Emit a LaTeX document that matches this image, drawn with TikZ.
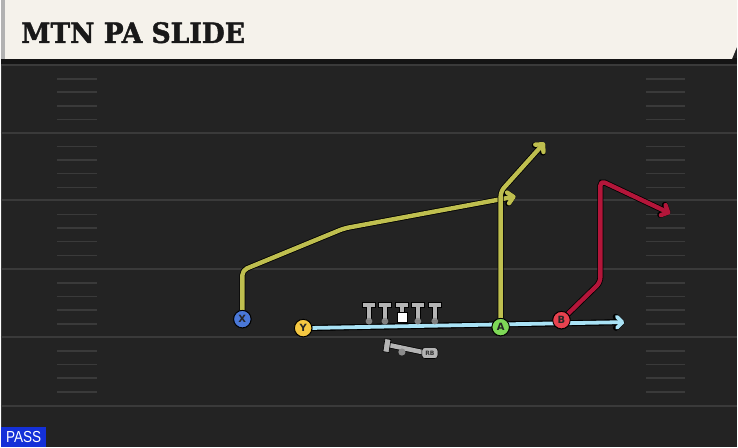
\documentclass[tikz,border=0pt]{standalone}
\usepackage{fontspec}
\setmainfont{DejaVu Serif}
\setsansfont{DejaVu Sans}
\newfontfamily\passfont{Liberation Sans}
\newfontfamily\titlefont{DejaVu Serif Bold}[FakeBold=1.6]
\usepackage{xcolor}
\usetikzlibrary{arrows.meta,calc}

\definecolor{fieldbg}{HTML}{232323}
\definecolor{yardline}{HTML}{3A3A3A}
\definecolor{titlebg}{HTML}{F5F2EB}
\definecolor{olive}{HTML}{BFBF4F}
\definecolor{crimson}{HTML}{B3163A}
\definecolor{slide}{HTML}{A9E2F5}
\definecolor{xblue}{HTML}{4A78D8}
\definecolor{yyellow}{HTML}{F5C842}
\definecolor{agreen}{HTML}{7ED957}
\definecolor{bred}{HTML}{E8424F}
\definecolor{olgray}{HTML}{B4B4B4}
\definecolor{passblue}{HTML}{1430D8}

\begin{document}
\begin{tikzpicture}[x=1pt, y=-1pt,
    player/.style={circle, draw=black, line width=0.9pt, minimum size=17.5pt, inner sep=0pt, text=black!85, font=\sffamily\bfseries\fontsize{10}{10}\selectfont},
    route/.style={line width=4.4pt, line join=round, rounded corners=5pt,
        preaction={draw=black, line width=6pt},
        -{Straight Barb[length=5.5pt, width=11pt, round]}},
    lineman/.style={fill=olgray, draw=black, line width=0.6pt},
    hash/.style={yardline, line width=1.6pt}
]
    % Field
    \fill[fieldbg] (0,0) rectangle (738,448);
    \draw[yardline, line width=1pt] (1,60) -- (1,448);
    \foreach \y in {65,133,201,270,338,407} {
        \draw[yardline, line width=2pt] (0,\y) -- (738,\y);
    }
    \foreach \y in {65,133,201,270,338} {
        \foreach \d in {14,27.5,41,55} {
            \draw[hash] (56,\y+\d) -- (96,\y+\d);
            \draw[hash] (647,\y+\d) -- (686,\y+\d);
        }
    }

    % Title bar
    \fill[black!92] (0,58) rectangle (738,64);
    \fill[titlebg] (0,0) -- (738,0) -- (738,47) -- (733,59) -- (0,59) -- cycle;
    \fill[black!30] (0,0) rectangle (4,59);
    \node[anchor=base west, inner sep=0pt, text=black!90, font=\titlefont\fontsize{28}{28}\selectfont] (title) at (20,43) {\scalebox{0.95}[1]{MTN PA SLIDE}};

    % Players
    \node[player, fill=xblue] (X) at (242,320) {X};
    \node[player, fill=yyellow] (Y) at (303,329) {Y};
    \node[player, fill=agreen] (A) at (501,328) {A};
    \node[player, fill=bred] (B) at (562,321) {B};

    % Route points
    \coordinate (xa) at (242,271);
    \coordinate (xb) at (344,229);
    \coordinate (xend) at (516,197);
    \coordinate (aa) at (501,192);
    \coordinate (aend) at (545,143);
    \coordinate (ba) at (601,283);
    \coordinate (bb) at (601,181);
    \coordinate (bend) at (671,214);
    \coordinate (yend) at (625,323);

    % Routes
    \draw[route, line width=3.8pt, preaction={draw=black, line width=5.4pt}, slide, rounded corners=0pt] (Y) -- (yend);
    \draw[route, olive] (X) -- (xa) -- (xb) -- (xend);
    \draw[route, olive] (A) -- (aa) -- (aend);
    \draw[route, crimson] (B) -- (ba) -- (bb) -- (bend);

    % Players on top
    \node[player, fill=xblue] at (X) {X};
    \node[player, fill=yyellow] at (Y) {Y};
    \node[player, fill=agreen] at (A) {A};
    \node[player, fill=bred] at (B) {B};

    % Offensive line
    \foreach \x in {369,385,418,435} {
        \draw[lineman] (\x-6.5,303) -- (\x+6.5,303) -- (\x+6.5,308.5) -- (\x+2.5,308.5) -- (\x+2.5,321) -- (\x-2.5,321) -- (\x-2.5,308.5) -- (\x-6.5,308.5) -- cycle;
        \fill[black!45, opacity=0.9] (\x,322) circle (3.4);
    }
    \draw[lineman] (395.5,303) -- (408.5,303) -- (408.5,308.5) -- (404.5,308.5) -- (404.5,313) -- (399.5,313) -- (399.5,308.5) -- (395.5,308.5) -- cycle;
    \draw[fill=white, draw=black, line width=0.6pt] (397,313) rectangle (407,323);

    % Running back
    \draw[black, line width=6pt] (389,346) -- (427,354);
    \draw[olgray, line width=4.6pt] (389,346) -- (427,354);
    \draw[lineman] (385,339.5) -- (391,340.5) -- (389,353.5) -- (383,352.5) -- cycle;
    \fill[black!45] (402,353) circle (3.6);
    \node[fill=olgray, draw=black, line width=0.6pt, rounded corners=3pt, minimum width=16pt, minimum height=11pt, inner sep=0pt, font=\sffamily\fontsize{6}{6}\selectfont\bfseries, text=black!80] (rb) at (430,354) {RB};

    % Play type
    \node[fill=passblue, text=white, anchor=south west, minimum width=45pt, minimum height=20pt, inner sep=0pt, font=\passfont\fontsize{16}{16}\selectfont] (pass) at (0,448) {\scalebox{0.85}[1]{PASS}};

    \useasboundingbox (0,0) rectangle (738,448);
\end{tikzpicture}
\end{document}
